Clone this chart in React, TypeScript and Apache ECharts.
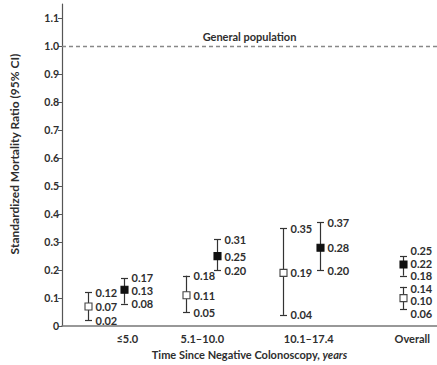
import React, { useEffect, useRef } from "react";
import * as echarts from "echarts";

// ---- data ----
const categories = ["≤5.0", "5.1–10.0", "10.1–17.4", "Overall"];
const openEst = [0.07, 0.11, 0.19, 0.1];
const openLo = [0.02, 0.05, 0.04, 0.06];
const openHi = [0.12, 0.18, 0.35, 0.14];
const filledEst = [0.13, 0.25, 0.28, 0.22];
const filledLo = [0.08, 0.2, 0.2, 0.18];
const filledHi = [0.17, 0.31, 0.37, 0.25];
const yTicks = [0, 0.1, 0.2, 0.3, 0.4, 0.5, 0.6, 0.7, 0.8, 0.9, 1.0, 1.1];
const referenceValue = 1.0;
const referenceLabel = "General population";
const yTitle = "Standardized Mortality Ratio (95% CI)";
const xTitleMain = "Time Since Negative Colonoscopy, ";
const xTitleUnit = "years";

// ---- layout (x positions on a hidden value scale) ----
const categoryX = [0.87, 1.87, 3.29, 4.67];
const openX = [0.34, 1.65, 2.95, 4.54];
const filledX = [0.82, 2.06, 3.44, 4.54];

const FONT = "Lato";
const TEXT = "#2e2e2e";
const LABEL_GAP = 12.5;

// Resolve the vertical positions of the value labels of one category so that they do not collide.
function layoutLabels(api: any, i: number) {
  const groups = [
    { x: openX[i], vals: [openHi[i], openEst[i], openLo[i]] },
    { x: filledX[i], vals: [filledHi[i], filledEst[i], filledLo[i]] },
  ];
  const px = groups.map((g) => api.coord([g.x, 0])[0]);
  const shared = Math.abs(px[0] - px[1]) < 30;
  const items: { gi: number; vi: number; y: number }[] = [];
  groups.forEach((g, gi) => g.vals.forEach((v, vi) => items.push({ gi, vi, y: api.coord([g.x, v])[1] })));
  const clusters = shared ? [items] : [items.filter((t) => t.gi === 0), items.filter((t) => t.gi === 1)];
  clusters.forEach((c) => {
    c.sort((a, b) => a.y - b.y);
    for (let it = 0; it < 80; it++) {
      for (let k = 0; k < c.length - 1; k++) {
        const d = c[k + 1].y - c[k].y;
        if (d < LABEL_GAP) {
          const s = (LABEL_GAP - d) / 2;
          c[k].y -= s;
          c[k + 1].y += s;
        }
      }
    }
  });
  const out = [
    [0, 0, 0],
    [0, 0, 0],
  ];
  items.forEach((t) => (out[t.gi][t.vi] = t.y));
  return out;
}

function makeSeries(name: string, gi: number, xs: number[], est: number[], lo: number[], hi: number[], filled: boolean) {
  return {
    type: "custom",
    name,
    data: xs.map((x, i) => [x, est[i], lo[i], hi[i]]),
    encode: { x: 0, y: [1, 2, 3] },
    renderItem: (params: any, api: any) => {
      const x = api.value(0);
      const e = api.value(1);
      const l = api.value(2);
      const h = api.value(3);
      const pe = api.coord([x, e]);
      const pl = api.coord([x, l]);
      const ph = api.coord([x, h]);
      const cx = Math.round(pe[0]) + 0.5;
      const cap = 3.5;
      const size = 7;
      const lx = cx + 7;
      const stroke = "#333";
      const ly = layoutLabels(api, params.dataIndex)[gi];
      const line = (x1: number, y1: number, x2: number, y2: number) => ({
        type: "line",
        shape: { x1, y1, x2, y2 },
        style: { stroke, lineWidth: 1.2 },
      });
      const txt = (v: number, y: number) => ({
        type: "text",
        style: {
          text: v.toFixed(2),
          x: lx,
          y,
          fill: TEXT,
          fontFamily: FONT,
          fontWeight: "bold",
          fontSize: 11,
          lineHeight: 11,
          align: "left",
          verticalAlign: "middle",
        },
      });
      return {
        type: "group",
        children: [
          line(cx, pl[1], cx, ph[1]),
          line(cx - cap, Math.round(pl[1]) + 0.5, cx + cap, Math.round(pl[1]) + 0.5),
          line(cx - cap, Math.round(ph[1]) + 0.5, cx + cap, Math.round(ph[1]) + 0.5),
          {
            type: "rect",
            shape: { x: cx - size / 2, y: pe[1] - size / 2, width: size, height: size },
            style: { fill: filled ? "#111" : "#fff", stroke: filled ? "#111" : "#444", lineWidth: 1.1 },
          },
          txt(h, ly[0]),
          txt(e, ly[1]),
          txt(l, ly[2]),
        ],
      };
    },
  };
}

export default function App() {
  const ref = useRef<HTMLDivElement>(null);
  useEffect(() => {
    if (!ref.current) return;
    const chart = echarts.init(ref.current, undefined, { renderer: "svg" });
    chart.setOption({
      animation: false,
      grid: { left: 59, right: 0, top: 4, bottom: 31, containLabel: false },
      xAxis: {
        type: "value",
        min: 0,
        max: 5,
        splitLine: { show: false },
        axisTick: { show: false },
        axisLine: { show: true, lineStyle: { color: "#777", width: 1.5 } },
        axisLabel: {
          customValues: categoryX,
          formatter: (v: number) => {
            const i = categoryX.findIndex((c) => Math.abs(c - v) < 1e-6);
            return i >= 0 ? categories[i] : "";
          },
          color: TEXT,
          fontFamily: FONT,
          fontWeight: "bold",
          fontSize: 11,
          margin: 7,
        },
        name: `{a|${xTitleMain}}{b|${xTitleUnit}}`,
        nameLocation: "middle",
        nameGap: 19,
        nameTextStyle: {
          rich: {
            a: { color: TEXT, fontFamily: FONT, fontWeight: "bold", fontSize: 11 },
            b: { color: TEXT, fontFamily: FONT, fontWeight: "bold", fontStyle: "italic", fontSize: 11 },
          },
        },
      },
      yAxis: {
        type: "value",
        min: 0,
        max: 1.15,
        splitLine: { show: false },
        axisLine: { show: true, lineStyle: { color: "#555", width: 1.2 } },
        axisTick: { show: true, customValues: yTicks, length: 4, lineStyle: { color: "#555" } },
        axisLabel: {
          customValues: yTicks,
          formatter: (v: number) => (v === 0 ? "0" : v.toFixed(1)),
          color: TEXT,
          fontFamily: FONT,
          fontWeight: "bold",
          fontSize: 10.5,
          margin: 3,
        },
        name: yTitle,
        nameLocation: "middle",
        nameGap: 42,
        nameTextStyle: {
          color: TEXT,
          fontFamily: FONT,
          fontWeight: "bold",
          fontSize: 12,
          padding: [0, 0, 0, 22],
        },
      },
      series: [
        {
          type: "line",
          data: [],
          markLine: {
            silent: true,
            symbol: "none",
            data: [{ yAxis: referenceValue }],
            lineStyle: { color: "#888", type: [4, 3], width: 1.3 },
            label: {
              formatter: referenceLabel,
              position: "insideMiddleTop",
              distance: 4,
              color: TEXT,
              fontFamily: FONT,
              fontWeight: "bold",
              fontSize: 11,
            },
          },
        },
        makeSeries("open", 0, openX, openEst, openLo, openHi, false),
        makeSeries("filled", 1, filledX, filledEst, filledLo, filledHi, true),
      ],
    });
    return () => chart.dispose();
  }, []);
  return <div ref={ref} style={{ width: 437, height: 365, position: "absolute", left: 0, top: 0 }} />;
}
